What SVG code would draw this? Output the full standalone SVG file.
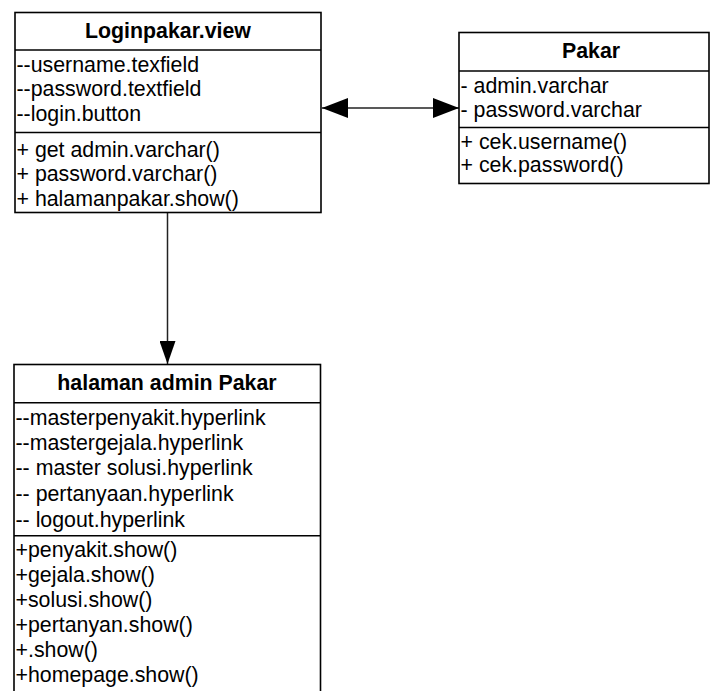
<svg xmlns="http://www.w3.org/2000/svg" width="710" height="691" viewBox="0 0 710 691">
<defs>
<style>
.box{fill:#fff;stroke:#000;stroke-width:1.6}
.sep{stroke:#000;stroke-width:1.6;fill:none}
.t{font-family:"Liberation Sans",Arial,sans-serif;font-size:21.33px;fill:#000}
.b{font-family:"Liberation Sans",Arial,sans-serif;font-size:21.33px;font-weight:bold;fill:#000;text-anchor:middle}
.conn{stroke:#222;stroke-width:1.5;fill:none}
</style>
<marker id="ah" viewBox="0 0 26 20" refX="26" refY="10" markerWidth="26" markerHeight="20" markerUnits="userSpaceOnUse" orient="auto-start-reverse">
<path d="M0,0 L26,10 L0,20 Z" fill="#000"/>
</marker>
<marker id="ah2" viewBox="0 0 23 16" refX="23" refY="8" markerWidth="23" markerHeight="16" markerUnits="userSpaceOnUse" orient="auto">
<path d="M0,0 L23,8 L0,16 Z" fill="#000"/>
</marker>
</defs>
<rect width="710" height="691" fill="#fff"/>
<g id="connectors">
<path class="conn" d="M322,108 L459,108" marker-start="url(#ah)" marker-end="url(#ah)"/>
<path class="conn" d="M167.5,213 L167.5,364" marker-end="url(#ah2)"/>
</g>
<g id="loginpakar">
<rect class="box" x="15" y="12.5" width="306" height="200"/>
<line class="sep" x1="15" y1="50" x2="321" y2="50"/>
<line class="sep" x1="15" y1="132.5" x2="321" y2="132.5"/>
<text class="b" x="168" y="37.5">Loginpakar.view</text>
<text class="t" x="16.5" y="71.5">--username.texfield</text>
<text class="t" x="16.5" y="96">--password.textfield</text>
<text class="t" x="16.5" y="120.5">--login.button</text>
<text class="t" x="16.5" y="156.5">+ get admin.varchar()</text>
<text class="t" x="16.5" y="181">+ password.varchar()</text>
<text class="t" x="16.5" y="205.5">+ halamanpakar.show()</text>
</g>
<g id="pakar">
<rect class="box" x="459" y="32.5" width="250" height="151"/>
<line class="sep" x1="459" y1="71" x2="709" y2="71"/>
<line class="sep" x1="459" y1="127.5" x2="709" y2="127.5"/>
<text class="b" x="591" y="57.7">Pakar</text>
<text class="t" x="460.5" y="93.3">- admin.varchar</text>
<text class="t" x="460.5" y="116.7">- password.varchar</text>
<text class="t" x="460.5" y="149.3">+ cek.username()</text>
<text class="t" x="460.5" y="172">+ cek.password()</text>
</g>
<g id="halaman-admin-pakar">
<rect class="box" x="14" y="364.5" width="306.5" height="340"/>
<line class="sep" x1="14" y1="402.7" x2="320.5" y2="402.7"/>
<line class="sep" x1="14" y1="535.7" x2="320.5" y2="535.7"/>
<text class="b" x="167" y="390">halaman admin Pakar</text>
<text class="t" x="15.5" y="424.5">--masterpenyakit.hyperlink</text>
<text class="t" x="15.5" y="450">--mastergejala.hyperlink</text>
<text class="t" x="15.5" y="475">-- master solusi.hyperlink</text>
<text class="t" x="15.5" y="500.5">-- pertanyaan.hyperlink</text>
<text class="t" x="15.5" y="526.5">-- logout.hyperlink</text>
<text class="t" x="15.5" y="556.7">+penyakit.show()</text>
<text class="t" x="15.5" y="581.7">+gejala.show()</text>
<text class="t" x="15.5" y="606.7">+solusi.show()</text>
<text class="t" x="15.5" y="631.7">+pertanyan.show()</text>
<text class="t" x="15.5" y="656.7">+.show()</text>
<text class="t" x="15.5" y="681.7">+homepage.show()</text>
</g>
</svg>
